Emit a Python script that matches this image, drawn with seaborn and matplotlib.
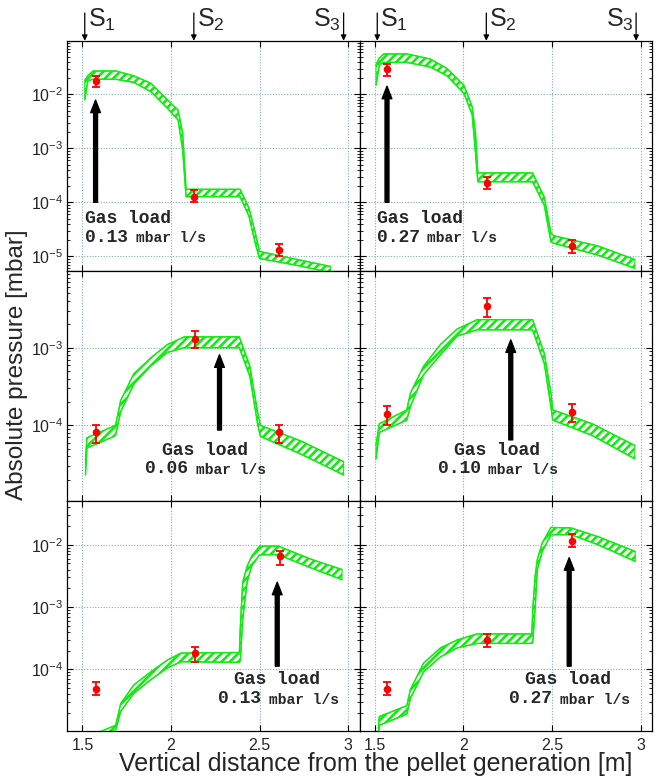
import numpy as np
import pandas as pd
import matplotlib
matplotlib.use('Agg')
import matplotlib.pyplot as plt
import seaborn as sns
from matplotlib.ticker import LogLocator, NullFormatter

# ---- data ----
# green band = simulated pressure range (upper / lower edge), red = measurements

# top row
tl_x = [1.513, 1.53, 1.56, 1.69, 1.79, 1.886, 1.98, 2.04, 2.066, 2.085, 2.39, 2.44, 2.475, 2.50, 2.70, 2.90]
tl_hi = [1.8e-2, 2.2e-2, 2.7e-2, 2.7e-2, 2.2e-2, 1.6e-2, 7.9e-3, 5.1e-3, 1.9e-3, 1.74e-4, 1.74e-4, 7.9e-5, 2.8e-5, 1.23e-5, 8.9e-6, 6.5e-6]
tl_lo = [7.9e-3, 1.78e-2, 1.9e-2, 1.9e-2, 1.66e-2, 1.12e-2, 5.5e-3, 3.35e-3, 9.3e-4, 1.27e-4, 1.27e-4, 5.6e-5, 1.78e-5, 9.1e-6, 6.9e-6, 5.0e-6]
tl_px = [1.574, 2.13, 2.61]
tl_py = [1.77e-2, 1.27e-4, 1.3e-5]
tl_plo = [1.35e-2, 1.0e-4, 1.0e-5]
tl_phi = [2.2e-2, 1.66e-4, 1.7e-5]

tr_x = [1.506, 1.525, 1.55, 1.68, 1.8125, 1.907, 2.002, 2.049, 2.068, 2.081, 2.39, 2.456, 2.494, 2.51, 2.76, 2.968]
tr_hi = [3.55e-2, 4.7e-2, 5.6e-2, 5.6e-2, 4.5e-2, 3.0e-2, 1.48e-2, 5.9e-3, 1.9e-3, 3.5e-4, 3.5e-4, 1.26e-4, 2.7e-5, 2.4e-5, 1.55e-5, 8.7e-6]
tr_lo = [1.48e-2, 3.5e-2, 3.9e-2, 3.9e-2, 3.2e-2, 2.2e-2, 1.05e-2, 4.2e-3, 8.1e-4, 2.4e-4, 2.4e-4, 8.9e-5, 1.86e-5, 1.74e-5, 1.05e-5, 6.0e-6]
tr_px = [1.57, 2.135, 2.614]
tr_py = [2.9e-2, 2.3e-4, 1.55e-5]
tr_plo = [2.2e-2, 1.74e-4, 1.17e-5]
tr_phi = [3.7e-2, 3.0e-4, 2.0e-5]

# middle row
ml_x = [1.517, 1.525, 1.678, 1.6875, 1.716, 1.79, 1.886, 1.98, 2.076, 2.386, 2.445, 2.49, 2.505, 2.74, 2.975]
ml_hi = [3.5e-5, 6.9e-5, 9.8e-5, 1.02e-4, 2.1e-4, 4.6e-4, 7.4e-4, 1.1e-3, 1.38e-3, 1.38e-3, 5.8e-4, 1.45e-4, 1.0e-4, 6.2e-5, 3.4e-5]
ml_lo = [2.3e-5, 5.1e-5, 7.2e-5, 7.6e-5, 1.5e-4, 3.4e-4, 5.8e-4, 8.7e-4, 1.0e-3, 1.0e-3, 4.3e-4, 1.02e-4, 7.2e-5, 4.2e-5, 2.3e-5]
ml_px = [1.574, 2.136, 2.61]
ml_py = [8.1e-5, 1.3e-3, 8.1e-5]
ml_plo = [6.0e-5, 9.8e-4, 6.0e-5]
ml_phi = [1.02e-4, 1.66e-3, 1.02e-4]

mr_x = [1.506, 1.525, 1.68, 1.70, 1.775, 1.87, 1.964, 2.078, 2.39, 2.456, 2.494, 2.504, 2.727, 2.968]
mr_hi = [5.6e-5, 1.05e-4, 1.58e-4, 2.6e-4, 5.8e-4, 1.1e-3, 1.74e-3, 2.3e-3, 2.3e-3, 8.5e-4, 2.6e-4, 1.58e-4, 1.05e-4, 5.5e-5]
mr_lo = [3.7e-5, 8.1e-5, 1.17e-4, 1.74e-4, 4.5e-4, 8.1e-4, 1.41e-3, 1.7e-3, 1.7e-3, 6.3e-4, 1.74e-4, 1.17e-4, 7.4e-5, 3.7e-5]
mr_px = [1.57, 2.135, 2.614]
mr_py = [1.4e-4, 3.4e-3, 1.5e-4]
mr_plo = [1.02e-4, 2.5e-3, 1.1e-4]
mr_phi = [1.8e-4, 4.4e-3, 1.86e-4]

# bottom row
bl_x = [1.56, 1.6875, 1.716, 1.79, 1.886, 1.98, 2.057, 2.386, 2.392, 2.405, 2.43, 2.455, 2.50, 2.606, 2.795, 2.966]
bl_hi = [8.9e-6, 1.26e-5, 2.8e-5, 5.6e-5, 9.1e-5, 1.41e-4, 1.82e-4, 1.86e-4, 5.0e-4, 2.5e-3, 4.5e-3, 6.5e-3, 9.5e-3, 9.5e-3, 5.8e-3, 4.0e-3]
bl_lo = [7.1e-6, 1.05e-5, 2.1e-5, 4.1e-5, 6.8e-5, 1.05e-4, 1.32e-4, 1.29e-4, 1.41e-4, 6.3e-4, 2.5e-3, 4.5e-3, 6.9e-3, 6.9e-3, 4.2e-3, 2.75e-3]
bl_px = [1.574, 2.136, 2.614]
bl_py = [4.9e-5, 1.8e-4, 6.5e-3]
bl_plo = [3.9e-5, 1.32e-4, 4.8e-3]
bl_phi = [6.2e-5, 2.3e-4, 7.9e-3]

br_x = [1.519, 1.525, 1.68, 1.70, 1.775, 1.87, 1.964, 2.078, 2.386, 2.392, 2.405, 2.417, 2.445, 2.494, 2.608, 2.76, 2.97]
br_hi = [1.12e-5, 1.74e-5, 2.6e-5, 4.7e-5, 1.26e-4, 2.2e-4, 2.95e-4, 3.7e-4, 3.7e-4, 1.0e-3, 3.2e-3, 5.8e-3, 1.07e-2, 1.9e-2, 1.86e-2, 1.35e-2, 7.8e-3]
br_lo = [8.9e-6, 1.26e-5, 1.9e-5, 3.4e-5, 9.1e-5, 1.58e-4, 2.2e-4, 2.6e-4, 2.6e-4, 2.8e-4, 1.0e-3, 4.0e-3, 7.8e-3, 1.45e-2, 1.45e-2, 1.0e-2, 5.4e-3]
br_px = [1.57, 2.135, 2.614]
br_py = [4.9e-5, 2.95e-4, 1.17e-2]
br_plo = [3.9e-5, 2.3e-4, 9.1e-3]
br_phi = [6.2e-5, 3.7e-4, 1.48e-2]

gas_loads = ['0.13', '0.27', '0.06', '0.10', '0.13', '0.27']
station_names = ['S$_1$', 'S$_2$', 'S$_3$']
station_x = [1.513, 2.129, 2.975]
x_ticks = [1.5, 2, 2.5, 3]
x_tick_labels = ['1.5', '2', '2.5', '3']
row_ylims = [(5.4e-6, 0.098), (1.07e-5, 0.0098), (1.03e-5, 0.051)]

# gas-load arrows: (x, tip, base) in data units
arrows = [(1.574, 7.8e-3, 1.0e-4), (1.568, 1.41e-2, 1.0e-4),
          (2.274, 8.1e-4, 8.7e-5), (2.267, 1.26e-3, 6.5e-5),
          (2.60, 2.5e-3, 1.12e-4), (2.597, 6.2e-3, 1.12e-4)]
# (x of "Gas load", x of number, x of unit, y line1, y line2) in axes fraction
label_pos = [(0.060, 0.061, 0.234, 0.226, 0.146), (0.058, 0.058, 0.231, 0.226, 0.146),
             (0.325, 0.268, 0.440, 0.217, 0.138), (0.322, 0.267, 0.438, 0.217, 0.138),
             (0.572, 0.517, 0.692, 0.222, 0.138), (0.567, 0.512, 0.686, 0.222, 0.138)]

GREEN = '#10ec10'
RED = '#ff0000'

sns.set_theme(style='ticks')
plt.rcParams['font.family'] = ['Liberation Sans', 'DejaVu Sans']
plt.rcParams['mathtext.default'] = 'regular'
plt.rcParams['hatch.linewidth'] = 1.9

fig, axes = plt.subplots(3, 2, figsize=(6.64, 7.84), dpi=100, sharex=True, sharey='row',
                         gridspec_kw=dict(hspace=0, wspace=0))
fig.subplots_adjust(left=0.101, right=0.982, top=0.948, bottom=0.068)

panels = [
    (tl_x, tl_hi, tl_lo, tl_px, tl_py, tl_plo, tl_phi),
    (tr_x, tr_hi, tr_lo, tr_px, tr_py, tr_plo, tr_phi),
    (ml_x, ml_hi, ml_lo, ml_px, ml_py, ml_plo, ml_phi),
    (mr_x, mr_hi, mr_lo, mr_px, mr_py, mr_plo, mr_phi),
    (bl_x, bl_hi, bl_lo, bl_px, bl_py, bl_plo, bl_phi),
    (br_x, br_hi, br_lo, br_px, br_py, br_plo, br_phi),
]
mono = ['Liberation Mono', 'DejaVu Sans Mono']

for i, ax in enumerate(axes.flat):
    bx, bhi, blo, px, py, plo, phi = panels[i]
    ax.set_yscale('log')

    # hatched simulation band
    ax.fill_between(bx, blo, bhi, facecolor='white', edgecolor=GREEN, hatch='////',
                    linewidth=0.8, zorder=2)
    band = pd.DataFrame({'x': bx, 'hi': bhi, 'lo': blo})
    sns.lineplot(data=band, x='x', y='hi', color=GREEN, lw=1.0, ax=ax,
                 estimator=None, sort=False, zorder=3)
    sns.lineplot(data=band, x='x', y='lo', color=GREEN, lw=1.0, ax=ax,
                 estimator=None, sort=False, zorder=3)

    # measurements
    py_a = np.array(py)
    yerr = [py_a - np.array(plo), np.array(phi) - py_a]
    ax.errorbar(px, py, yerr=yerr, fmt='none', ecolor=RED, elinewidth=1.3,
                capsize=2.6, capthick=1.3, zorder=4)
    sns.scatterplot(x=px, y=py, color=RED, s=30, edgecolor=RED, linewidth=0,
                    ax=ax, zorder=5)

    ax.set_xlabel('')
    ax.set_ylabel('')
    ax.set_xlim(1.413, 3.065)
    ax.set_ylim(*row_ylims[i // 2])
    ax.set_xticks(x_ticks, x_tick_labels)
    ax.yaxis.set_major_locator(LogLocator(base=10))
    ax.yaxis.set_minor_locator(LogLocator(base=10, subs=np.arange(2, 10)))
    ax.yaxis.set_minor_formatter(NullFormatter())
    ax.tick_params(which='both', direction='in', top=True, right=True,
                   labelsize=11.5, color='black')
    ax.tick_params(which='major', length=4, width=0.8)
    ax.tick_params(which='minor', length=2.5, width=0.6)
    ax.tick_params(axis='x', pad=5)
    ax.tick_params(axis='y', pad=3)
    ax.grid(True, which='major', color='#80b0b8', linestyle=(0, (1, 1.5)), linewidth=0.8)
    for sp in ax.spines.values():
        sp.set_color('black')
        sp.set_linewidth(0.9)

    # gas load arrow + label
    ax_x, tip, base = arrows[i]
    ax.annotate('', xy=(ax_x, tip), xytext=(ax_x, base),
                arrowprops=dict(facecolor='black', edgecolor='black', width=2.8,
                                headwidth=7, headlength=9, shrink=0), zorder=6)
    gx, nx, ux, y1, y2 = label_pos[i]
    ax.text(gx, y1, 'Gas load', transform=ax.transAxes, family=mono, weight='bold',
            fontsize=13, ha='left', va='center')
    ax.text(nx, y2, gas_loads[i], transform=ax.transAxes, family=mono, weight='bold',
            fontsize=13, ha='left', va='center')
    ax.text(ux, y2 - 0.004, 'mbar l/s', transform=ax.transAxes, family=mono,
            weight='bold', fontsize=10.5, ha='left', va='center')

# station markers above the top row
for ax in axes[0]:
    for j, (name, sx) in enumerate(zip(station_names, station_x)):
        ax.annotate('', xy=(sx, 1.0), xycoords=('data', 'axes fraction'),
                    xytext=(0, 20), textcoords='offset points',
                    arrowprops=dict(arrowstyle='-|>', color='black', lw=0.9,
                                    mutation_scale=8, shrinkA=0, shrinkB=0))
        off, ha = (2, 'left') if j < 2 else (-2, 'right')
        ax.annotate(name, xy=(sx, 1.0), xycoords=('data', 'axes fraction'),
                    xytext=(off, 10), textcoords='offset points', ha=ha,
                    va='baseline', fontsize=18, annotation_clip=False)

fig.text(0.026, 0.535, 'Absolute pressure [mbar]', rotation=90, ha='center',
         va='center', fontsize=17.5)
fig.text(0.566, 0.025, 'Vertical distance from the pellet generation [m]',
         ha='center', va='center', fontsize=18)

fig.savefig('out.png', dpi=100)
